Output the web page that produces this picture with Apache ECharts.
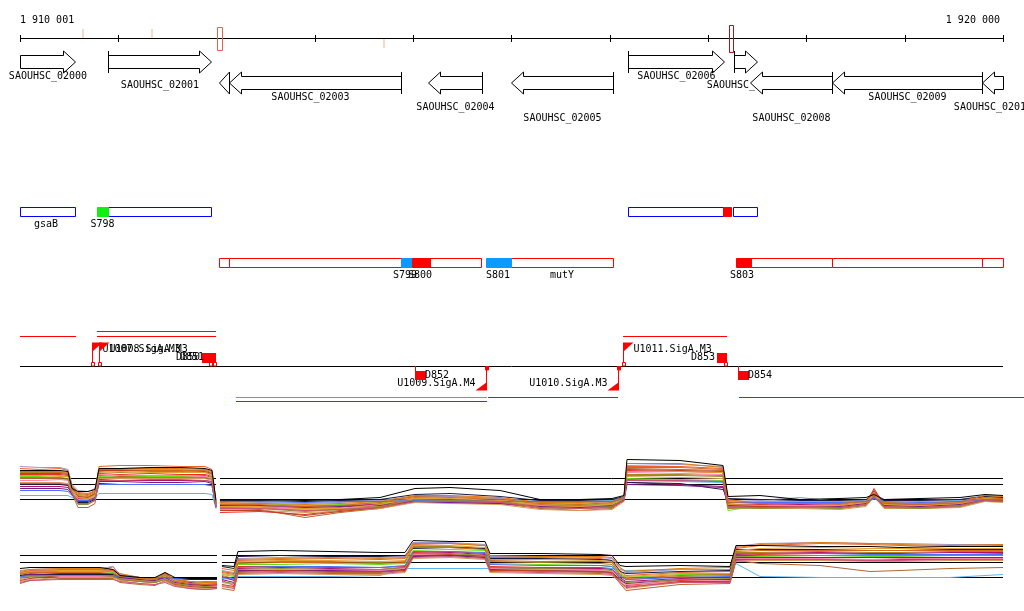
<!DOCTYPE html>
<html><head><meta charset="utf-8">
<script src="https://cdn.jsdelivr.net/npm/echarts@6/dist/echarts.min.js"></script>
<style>html,body{margin:0;padding:0;background:#fff}#c{width:1024px;height:611px}</style>
</head><body><div id="c"></div>
<script>
// ---------------- data ----------------
const viewStart = 1910001, viewEnd = 1920000;
const endLabels = ['1 910 001', '1 920 000'];
const tickPositions = [1910001,1911000,1912000,1913000,1914000,1915000,1916000,1917000,1918000,1919000,1920000];

const axisMarkPos  = [1910631, 1911334, 1913693];
const axisMarkSide = [1, 1, -1];
const axisBoxStart = [1912005, 1917213];
const axisBoxEnd   = [1912055, 1917254];

const geneNames   = ['SAOUHSC_02000','SAOUHSC_02001','SAOUHSC_02003','SAOUHSC_02004','SAOUHSC_02005','SAOUHSC_02006','SAOUHSC_02007','SAOUHSC_02008','SAOUHSC_02009','SAOUHSC_02010'];
const geneStarts  = [1910001,1910896,1912025,1914151,1914995,1916186,1917264,1917427,1918261,1919787];
const geneEnds    = [1910560,1911944,1913877,1914700,1916033,1917162,1917498,1918261,1919787,1920000];
const geneStrands = [1,1,-1,-1,-1,1,1,-1,-1,-1];

const boxStart = [1910001,1910784,1910896,1916186,1917152,1917254, 1912025,1912127,1913877,1913989,1914741,1914995,1917284,1917437,1918261,1919787];
const boxEnd   = [1910560,1910896,1911944,1917152,1917233,1917498, 1912127,1914690,1913989,1914172,1914995,1916033,1917437,1918261,1919787,1920000];
const boxRow   = [0,0,0,0,0,0, 1,1,1,1,1,1,1,1,1,1];
const boxKind  = ['region','sRNA','region','region','sRNA','region', 'region','region','sRNA','sRNA','sRNA','region','sRNA','region','region','region'];

const featLabels = ['gsaB','S798','S799','S800','S801','mutY','S803'];
const featPos    = [1910265,1910840,1913917,1914070,1914863,1915514,1917345];
const featRow    = [0,0,1,1,1,1,1];

const trStart  = [1910001,1910784,1910784,1916135,1912198,1912198,1914761,1917315];
const trEnd    = [1910570,1911995,1911995,1917193,1914751,1914751,1916084,1920300];
const trStrand = [1,1,1,1,-1,-1,-1,-1];
const trLevel  = [0,1,0,0,0,1,0,0];

const tssNames  = ['U1007.SigA.M3','U1008.SigA.M3','U1009.SigA.M4','U1010.SigA.M3','U1011.SigA.M3'];
const tssPos    = [1910733,1910805,1914741,1916084,1916135];
const tssStrand = [1,1,-1,-1,1];

const dNames  = ['D850','D851','D852','D853','D854'];
const dPos    = [1911954,1911995,1914019,1917193,1917305];
const dStrand = [1,1,-1,1,-1];

// expression profiles (relative signal), one row per sample
const posA_L = [1910001,1910204,1910408,1910489,1910530,1910591,1910693,1910764,1910805,1911018,1911323,1911628,1911883,1911954,1911995];
const posA_R = [1912035,1912442,1912900,1913256,1913663,1914019,1914375,1914884,1915290,1915697,1916023,1916145,1916175,1916714,1917152,1917203,1917528,1917935,1918342,1918607,1918688,1918790,1919156,1919563,1919817,1920000];
const posB_L = [1910001,1910103,1910408,1910815,1910947,1911018,1911221,1911374,1911476,1911577,1911730,1911883,1912005];
const posB_R = [1912055,1912178,1912218,1912645,1913154,1913663,1913917,1913999,1914375,1914731,1914782,1915290,1915901,1916023,1916104,1916165,1916714,1917223,1917284,1917528,1918138,1918647,1918952,1919461,1920000];

const exprA_L = [
 [52,51,52,50,35,28,27,30,54,55,55,54,54,51,18],
 [46,46,46,45,31,22,22,26,47,46,47,46,46,44,17],
 [42,42,42,41,27,13,13,17,45,44,44,44,45,43,15],
 [48,48,48,47,33,26,25,28,49,48,49,49,48,46,16],
 [44,44,45,44,30,24,23,26,44,43,44,44,43,42,15],
 [25,25,25,25,23,21,21,23,27,27,27,27,27,26,12],
 [34,34,34,33,28,20,20,23,41,40,40,40,40,39,14],
 [54,53,53,51,36,30,29,32,50,50,51,51,50,47,17],
 [36,36,36,35,26,18,18,21,37,36,36,36,36,35,14],
 [40,40,41,40,29,23,22,25,46,45,45,45,44,42,16],
 [38,38,38,37,28,21,21,24,42,42,42,42,42,40,15],
 [50,49,49,48,34,25,24,27,52,52,52,52,51,49,17],
 [32,32,32,31,26,19,19,22,39,39,38,38,39,37,13],
 [47,47,47,46,32,24,23,27,50,50,50,50,49,47,16],
 [45,45,44,44,31,23,22,25,48,49,48,48,48,45,16],
 [30,30,30,29,25,20,20,22,36,36,36,36,36,35,13],
 [43,43,43,42,29,16,16,20,43,43,43,43,43,41,15],
 [37,37,37,36,27,17,17,20,40,40,41,41,40,38,14],
 [49,49,48,47,33,27,26,29,51,51,50,50,50,48,16],
 [50,50,50,49,32,29,29,31,52,52,53,53,52,50,20]
];
const exprA_R = [
 [15,14,12,13,17,23,24,22,16,15,17,24,54,54,52,20,18,17,16,20,30,18,17,19,24,23],
 [8,9,6,10,13,20,20,18,14,13,15,22,50,49,48,15,16,15,14,17,32,16,15,17,22,21],
 [12,11,3,8,12,19,18,17,12,10,12,20,52,51,50,12,13,13,12,15,28,13,12,14,20,19],
 [14,13,10,11,15,22,21,20,15,14,16,23,46,46,45,17,14,14,14,17,26,15,14,16,22,22],
 [17,17,15,16,18,21,20,18,17,16,17,22,42,41,40,10,15,15,14,16,22,16,15,16,20,20],
 [20,20,19,20,19,20,18,19,20,19,20,23,40,39,38,18,19,19,19,20,22,20,19,20,21,21],
 [16,15,14,15,16,20,19,18,15,14,15,21,38,36,34,16,15,16,15,18,24,17,16,17,21,20],
 [19,18,17,18,20,24,24,22,18,17,19,24,55,56,54,19,20,23,19,20,25,20,20,21,25,24],
 [20,20,19,20,21,26,27,24,20,20,21,24,38,37,31,22,21,20,20,21,25,20,20,21,24,23],
 [13,13,11,12,14,21,20,19,14,13,14,21,48,47,46,14,14,15,14,17,26,15,14,16,21,20],
 [11,10,8,9,12,18,17,16,11,10,11,19,44,43,42,13,12,12,11,14,24,12,12,13,19,18],
 [18,17,16,17,19,25,25,23,18,18,19,23,57,57,53,21,17,18,17,19,26,18,17,19,25,24],
 [15,14,13,14,15,19,18,17,14,13,14,20,36,35,33,15,14,15,14,17,23,15,14,16,20,19],
 [10,10,5,9,13,21,21,19,13,12,13,21,51,50,49,13,14,14,13,16,30,14,13,15,21,20],
 [14,14,12,12,16,22,22,20,15,14,16,22,49,49,48,16,15,15,15,18,27,16,15,17,22,21],
 [19,19,18,19,19,20,20,19,19,19,19,22,41,40,39,18,18,18,18,19,22,19,18,19,21,21],
 [13,12,9,11,14,21,20,19,13,12,14,22,45,45,44,13,12,13,12,16,25,13,12,14,20,19],
 [12,12,10,11,13,19,19,18,13,12,13,20,40,40,39,14,13,14,13,16,24,14,13,15,20,19],
 [16,16,14,15,18,24,23,21,17,16,18,24,53,53,51,18,17,17,17,19,28,17,16,18,23,22],
 [21,21,20,21,23,32,33,30,21,21,22,25,61,60,55,24,25,21,22,23,26,21,22,23,26,25]
];
const exprB_L = [
 [28,30,31,31,30,26,22,21,27,20,18,19,19],
 [25,27,29,29,34,24,21,20,28,19,17,15,16],
 [17,20,22,22,22,18,16,15,20,15,12,11,12],
 [23,25,26,26,25,22,20,19,22,17,15,14,14],
 [26,28,29,29,28,24,22,22,24,20,18,17,18],
 [23,24,24,24,24,23,22,22,22,22,22,22,22],
 [27,29,30,30,29,25,23,22,26,21,18,16,17],
 [30,31,32,32,34,26,23,23,25,21,19,18,19],
 [25,26,26,26,26,23,22,22,23,22,21,21,21],
 [21,23,24,24,24,21,19,18,22,17,14,13,14],
 [19,21,23,23,23,20,17,16,19,15,13,12,13],
 [29,31,32,32,31,27,23,22,28,21,19,18,18],
 [24,26,27,27,27,23,21,20,23,18,16,15,15],
 [20,22,25,25,25,21,19,18,21,16,14,13,13],
 [27,29,30,30,29,25,22,21,26,20,17,17,17],
 [24,25,25,25,25,24,23,23,23,22,22,22,22],
 [22,24,25,25,24,21,19,18,21,17,15,14,15],
 [18,20,21,21,21,19,17,16,18,14,12,11,12],
 [26,28,28,28,27,24,22,21,25,19,17,16,17],
 [32,33,33,33,31,25,23,23,28,23,22,22,22]
];
const exprB_R = [
 [28,26,40,41,42,41,42,56,57,55,43,43,42,40,30,25,28,29,52,55,57,56,55,54,55],
 [20,15,34,34,33,33,34,48,49,47,34,33,33,32,22,15,20,21,45,46,47,47,46,46,47],
 [12,10,28,29,28,28,30,44,45,43,30,29,28,27,17,10,16,17,40,37,35,29,30,32,33],
 [25,22,38,39,39,38,39,54,54,52,39,38,37,36,25,21,24,25,48,48,49,48,48,49,49],
 [26,24,36,36,37,36,37,50,51,50,37,36,35,34,27,23,26,26,44,44,45,44,44,45,45],
 [22,21,24,24,24,25,32,32,32,32,32,32,32,32,31,30,31,31,37,24,23,23,23,23,26],
 [24,20,32,33,32,31,33,47,48,46,33,32,32,31,23,19,22,23,46,47,48,47,47,48,48],
 [30,28,42,43,44,43,44,58,58,56,44,44,43,42,32,28,31,31,54,57,58,57,57,56,56],
 [34,32,44,45,44,44,45,52,53,52,42,42,41,40,29,27,29,30,51,51,51,50,50,51,51],
 [18,16,30,31,30,30,32,46,47,45,32,31,30,29,20,16,19,20,42,42,42,41,42,42,42],
 [15,13,26,27,26,26,28,42,43,41,28,27,26,25,18,12,18,18,39,40,40,39,39,40,40],
 [32,30,41,42,43,42,43,57,57,55,45,44,44,43,33,29,32,33,53,56,58,57,56,55,56],
 [21,18,30,30,30,29,31,44,45,43,31,30,29,28,21,17,21,21,43,43,43,43,43,43,43],
 [16,14,29,30,29,29,30,45,46,44,30,30,29,28,19,13,19,19,41,41,41,40,41,41,41],
 [27,25,39,40,40,39,40,55,55,53,41,41,40,39,28,24,27,27,50,52,53,52,52,52,52],
 [23,22,33,34,34,33,35,49,49,48,36,35,35,34,24,21,23,24,47,47,47,46,46,46,46],
 [19,17,31,32,31,31,33,47,47,45,33,32,31,30,22,18,21,22,44,45,45,45,45,45,45],
 [14,12,27,28,27,27,29,43,44,42,29,28,27,26,18,14,18,18,40,41,41,40,40,41,41],
 [29,27,37,38,38,37,38,53,53,51,40,39,39,38,26,22,25,26,49,50,50,50,50,50,50],
 [35,34,49,50,49,48,48,60,59,59,47,47,46,45,35,34,35,34,55,55,54,54,53,54,54]
];
const refA = [42, 36, 21];
const refB = [45, 38, 23];

// ---------------- styles / layout ----------------
const lineColors = ['#e8642c','#e8302a','#b5652e','#a8861e','#66dd11','#5ab4ee','#b0106a','#9c94cc','#1a1a40','#ff80b0','#d89a5a','#dd7a10','#7a1a8a',
                    '#c04020','#e0a030','#4a70ff','#909030','#cc5577','#d2691e','#000000'];
const FONT = '10px "DejaVu Sans Mono", monospace';
const geneLabelLevel = [0,1,2,3,4,0,1,4,2,3];
const geneDoubleHead = [false,false,true,false,false,false,false,false,false,false];
const labelLevelY = [76, 85, 97.5, 107, 118];
const boxFill = ['', '#11ee11', '', '', '#ff0000', '', '', '', '#0a9bff', '#ff0000', '#0a9bff', '', '#ff0000', '', '', ''];

const crisp = v => Math.round(v) + 0.5;
function txt(s, x, y, align, color) {
  return {type:'text', style:{text:s, x:x, y:y, font:FONT, fill:color||'#000',
    align:align||'center', verticalAlign:'middle', textAlign:align||'center', textVerticalAlign:'middle'}};
}
function ln(x1,y1,x2,y2,color,w){ return {type:'line', shape:{x1,y1,x2,y2}, style:{stroke:color||'#000', lineWidth:w||1}}; }

function renderAxis(params, api) {
  const X = b => api.coord([b, 0])[0];
  const xa = X(viewStart), xb = X(viewEnd);
  const ch = [ln(xa,38.5,xb,38.5)];
  tickPositions.forEach(t => { const x = crisp(X(t)); ch.push(ln(x,35,x,42)); });
  ch.push(txt(endLabels[0], xa, 20.5, 'left'));
  ch.push(txt(endLabels[1], xb - 3, 20.5, 'right'));
  axisMarkPos.forEach((p, i) => {
    const x = Math.round(X(p)) + 1;
    ch.push(axisMarkSide[i] > 0 ? ln(x,29,x,38,'#f8d8c6',2) : ln(x,39,x,48,'#f8d8c6',2));
  });
  const boxCol = ['#e8604c', '#a01818'];
  axisBoxStart.forEach((s, i) => {
    const x0 = crisp(X(s)), x1 = crisp(X(axisBoxEnd[i]));
    const top = i === 0 ? 27.5 : 25.5, bot = i === 0 ? 50.5 : 52.5;
    ch.push({type:'rect', shape:{x:x0, y:top, width:x1-x0, height:bot-top}, style:{fill:'none', stroke:boxCol[i], lineWidth:1}});
  });
  return {type:'group', children:ch};
}

function renderGene(params, api) {
  const i = api.value(3);
  const x0 = crisp(api.coord([geneStarts[i],0])[0]), x1 = crisp(api.coord([geneEnds[i],0])[0]);
  const fwd = geneStrands[i] > 0;
  const c = fwd ? 62 : 83, bh = 6.5, hh = 11, hl = 12;
  const ch = [];
  const st = {fill:'#fff', stroke:'#000', lineWidth:1};
  let pts;
  if (fwd) {
    pts = [[x0,c-bh],[x1-hl,c-bh],[x1-hl,c-hh],[x1,c],[x1-hl,c+hh],[x1-hl,c+bh],[x0,c+bh]];
    if (geneStarts[i] > viewStart) ch.push(ln(x0, c-hh, x0, c+hh));
  } else {
    let tip = x0;
    if (geneDoubleHead[i]) {
      ch.push({type:'polygon', shape:{points:[[x0,c],[x0+10,c-hh],[x0+10,c+hh]]}, style:st});
      tip = x0 + 10;
    }
    pts = [[x1,c-bh],[tip+hl,c-bh],[tip+hl,c-hh],[tip,c],[tip+hl,c+hh],[tip+hl,c+bh],[x1,c+bh]];
    if (geneEnds[i] < viewEnd) ch.push(ln(x1, c-hh, x1, c+hh));
  }
  ch.unshift({type:'polygon', shape:{points:pts}, style:st});
  ch.push(txt(geneNames[i], (x0+x1)/2, labelLevelY[geneLabelLevel[i]], 'center'));
  return {type:'group', children:ch};
}

function renderBox(params, api) {
  const i = api.value(3);
  const x0 = crisp(api.coord([boxStart[i],0])[0]), x1 = crisp(api.coord([boxEnd[i],0])[0]);
  const top = boxRow[i] === 0 ? 207.5 : 258.5;
  const fill = boxKind[i] === 'sRNA';
  const col = fill ? boxFill[i] : (boxRow[i] === 0 ? '#0000ff' : '#ff0000');
  return {type:'rect', z2: fill ? 10 : 1, shape:{x:x0, y:top, width:x1-x0, height:9},
    style:{fill: fill ? col : '#fff', stroke: col, lineWidth:1}};
}

function renderFeatLabel(params, api) {
  const i = api.value(3);
  const x = api.coord([featPos[i],0])[0];
  return txt(featLabels[i], x, featRow[i] === 0 ? 224.5 : 275.5, 'center');
}

function renderTrack(params, api) {
  const X = b => api.coord([b, 0])[0];
  const ch = [ln(X(viewStart), 366.5, X(viewEnd), 366.5)];
  trStart.forEach((s, i) => {
    const y = trStrand[i] > 0 ? (trLevel[i] ? 331.5 : 336.5) : (trLevel[i] ? 401.5 : 397.5);
    ch.push(ln(X(s), y, X(trEnd[i]), y, i === 4 ? '#22dd22' : '#ff0000', 1));
  });
  tssPos.forEach((p, i) => {
    const x = crisp(X(p));
    if (tssStrand[i] > 0) {
      ch.push(ln(x, 343, x, 366, '#ff0000'));
      ch.push({type:'polygon', shape:{points:[[x-0.5,342.5],[x+10,342.5],[x-0.5,352]]}, style:{fill:'#ff0000'}});
      ch.push({type:'rect', shape:{x:x-1, y:362.5, width:3, height:3.5}, style:{fill:'#fff', stroke:'#ff0000', lineWidth:1}});
      ch.push(txt(tssNames[i], x + 10, 349.5, 'left'));
    } else {
      ch.push(ln(x, 367, x, 390, '#ff0000'));
      ch.push({type:'rect', shape:{x:x-1, y:366.5, width:3, height:3.5}, style:{fill:'#ff0000', stroke:'#ff0000', lineWidth:1}});
      ch.push({type:'polygon', shape:{points:[[x+0.5,390.5],[x-11,390.5],[x+0.5,382]]}, style:{fill:'#ff0000'}});
      ch.push(txt(tssNames[i], x - 11, 383.5, 'right'));
    }
  });
  dPos.forEach((p, i) => {
    const x = Math.round(X(p));
    if (dStrand[i] > 0) {
      ch.push({type:'rect', shape:{x:x-10, y:353, width:10, height:10}, style:{fill:'#ff0000'}});
      ch.push({type:'rect', shape:{x:x-2.5, y:362.5, width:3, height:3.5}, style:{fill:'#fff', stroke:'#ff0000', lineWidth:1}});
      ch.push(txt(dNames[i], x - 12, 357.5, 'right'));
    } else {
      ch.push(ln(x+0.5, 366, x+0.5, 371, '#ff0000', 1));
      ch.push({type:'rect', shape:{x:x, y:371, width:11, height:9}, style:{fill:'#ff0000'}});
      ch.push(txt(dNames[i], x + 10, 375, 'left'));
    }
  });
  return {type:'group', children:ch};
}

// ---------------- series ----------------
const series = [];
const cust = (fn, data) => ({type:'custom', xAxisIndex:0, yAxisIndex:0, silent:true, renderItem:fn,
  encode:{x:[0,1], y:2}, data:data});
series.push(cust(renderAxis, [[viewStart, viewEnd, 0, 0]]));
series.push(cust(renderGene, geneNames.map((n,i) => [geneStarts[i], geneEnds[i], 0, i])));
series.push(cust(renderBox, boxStart.map((s,i) => [s, boxEnd[i], 0, i])));
series.push(cust(renderFeatLabel, featLabels.map((n,i) => [featPos[i], featPos[i], 0, i])));
series.push(cust(renderTrack, [[viewStart, viewEnd, 0, 0]]));

function refSeries(axis, vals, posL, posR) {
  vals.forEach(v => series.push({type:'line', xAxisIndex:axis, yAxisIndex:axis, silent:true, symbol:'none',
    lineStyle:{color:'#000', width:1}, data:[[posL[0], v],[posL[posL.length-1], v],[(posL[posL.length-1]+posR[0])/2,'-'],[posR[0], v],[posR[posR.length-1], v]]}));
}
function exprSeries(axis, posL, posR, L, R) {
  L.forEach((row, i) => {
    const d = posL.map((x,k) => [x, row[k]]);
    d.push([(posL[posL.length-1]+posR[0])/2, '-']);
    posR.forEach((x,k) => d.push([x, R[i][k]]));
    series.push({type:'line', xAxisIndex:axis, yAxisIndex:axis, silent:true, symbol:'none', connectNulls:false,
      lineStyle:{color:lineColors[i], width:1}, data:d});
  });
}
refSeries(1, refA, posA_L, posA_R);
refSeries(2, refB, posB_L, posB_R);
exprSeries(1, posA_L, posA_R, exprA_L, exprA_R);
exprSeries(2, posB_L, posB_R, exprB_L, exprB_R);

const option = {
  animation:false,
  backgroundColor:'#fff',
  grid:[
    {left:20, right:21, top:0, height:460},
    {left:20, right:21, top:455.5, height:65},
    {left:20, right:21, top:535.5, height:65}
  ],
  xAxis:[0,1,2].map(g => ({type:'value', gridIndex:g, min:viewStart, max:viewEnd, show:false})),
  yAxis:[
    {type:'value', gridIndex:0, min:0, max:460, inverse:true, show:false},
    {type:'value', gridIndex:1, min:0, max:65, show:false},
    {type:'value', gridIndex:2, min:0, max:65, show:false}
  ],
  series:series
};
const chart = echarts.init(document.getElementById('c'));
chart.setOption(option);
</script></body></html>
